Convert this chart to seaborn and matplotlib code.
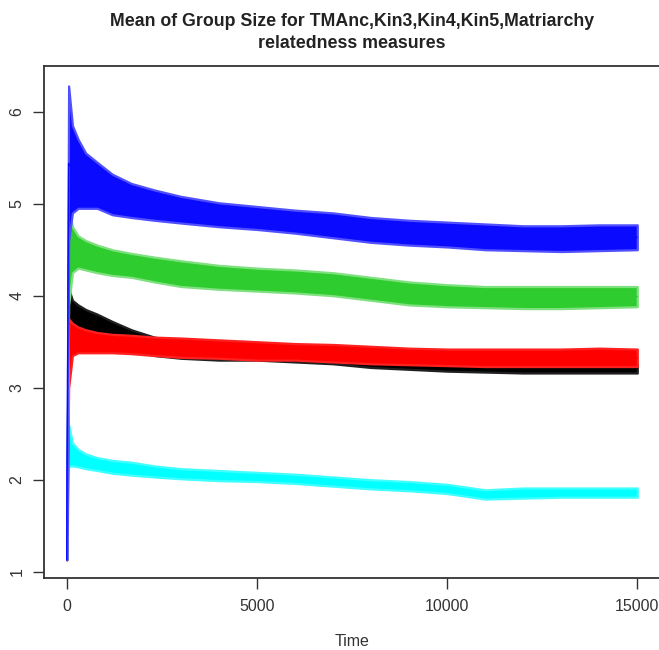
import numpy as np
import pandas as pd
import matplotlib
matplotlib.use("Agg")
import matplotlib.pyplot as plt
import seaborn as sns

# ---- data (time, lower / upper envelope of each noisy series) ----
times = [0, 50, 150, 300, 500, 800, 1200, 1700, 2300, 3000, 4000, 5000, 6000,
         7000, 8000, 9000, 10000, 11000, 12000, 13000, 14000, 15000]

cyan_low  = [1.13, 2.15, 2.15, 2.14, 2.12, 2.10, 2.07, 2.05, 2.03, 2.01, 1.99, 1.98, 1.96,
             1.93, 1.90, 1.88, 1.85, 1.79, 1.80, 1.81, 1.81, 1.81]
cyan_high = [1.13, 2.60, 2.40, 2.33, 2.28, 2.24, 2.21, 2.19, 2.15, 2.12, 2.10, 2.08, 2.06,
             2.03, 2.00, 1.98, 1.95, 1.89, 1.91, 1.91, 1.91, 1.91]

black_low  = [1.13, 3.30, 3.60, 3.62, 3.60, 3.55, 3.50, 3.40, 3.35, 3.32, 3.30, 3.30, 3.28,
              3.26, 3.22, 3.20, 3.18, 3.17, 3.16, 3.16, 3.16, 3.16]
black_high = [1.13, 4.08, 3.95, 3.90, 3.85, 3.80, 3.72, 3.63, 3.55, 3.50, 3.46, 3.45, 3.43,
              3.40, 3.36, 3.32, 3.30, 3.28, 3.27, 3.27, 3.27, 3.26]

red_low  = [1.13, 3.00, 3.35, 3.38, 3.38, 3.38, 3.38, 3.37, 3.35, 3.33, 3.32, 3.30, 3.30,
            3.28, 3.26, 3.25, 3.24, 3.23, 3.23, 3.23, 3.23, 3.23]
red_high = [1.13, 3.75, 3.70, 3.66, 3.63, 3.60, 3.58, 3.57, 3.55, 3.54, 3.52, 3.50, 3.48,
            3.47, 3.45, 3.43, 3.42, 3.42, 3.42, 3.42, 3.43, 3.42]

green_low  = [1.13, 3.90, 4.25, 4.30, 4.28, 4.25, 4.22, 4.20, 4.15, 4.10, 4.07, 4.05, 4.03,
              4.00, 3.95, 3.90, 3.88, 3.87, 3.86, 3.86, 3.87, 3.88]
green_high = [1.13, 4.95, 4.75, 4.65, 4.60, 4.55, 4.50, 4.46, 4.42, 4.38, 4.33, 4.30, 4.28,
              4.25, 4.20, 4.15, 4.12, 4.10, 4.10, 4.10, 4.10, 4.10]

blue_low  = [1.13, 4.60, 4.90, 4.95, 4.95, 4.95, 4.88, 4.85, 4.82, 4.79, 4.75, 4.72, 4.68,
             4.63, 4.58, 4.55, 4.53, 4.50, 4.49, 4.48, 4.49, 4.50]
blue_high = [1.13, 6.28, 5.85, 5.70, 5.55, 5.45, 5.32, 5.22, 5.15, 5.08, 5.01, 4.97, 4.93,
             4.90, 4.85, 4.82, 4.80, 4.78, 4.76, 4.76, 4.77, 4.77]

series_names = ["Matriarchy", "TMAnc", "Kin3", "Kin4", "Kin5"]
series_low = [cyan_low, black_low, red_low, green_low, blue_low]
series_high = [cyan_high, black_high, red_high, green_high, blue_high]
series_colors = ["#00FFFF", "#000000", "#FF0000", "#2ECC2E", "#0A0AFF"]
series_edges = ["#40FFFF", "#202020", "#FF2020", "#7FE07F", "#5050FF"]

x_ticks = [0, 5000, 10000, 15000]
y_ticks = [1, 2, 3, 4, 5, 6]
title_text = "Mean of Group Size for TMAnc,Kin3,Kin4,Kin5,Matriarchy\nrelatedness measures"
x_label = "Time"

# ---- long-form table: two observations (envelope) per time step ----
rows = []
for name, lo, hi in zip(series_names, series_low, series_high):
    for t, a, b in zip(times, lo, hi):
        rows.append((name, t, a))
        rows.append((name, t, b))
df = pd.DataFrame(rows, columns=["series", "time", "value"])

sns.set_theme(style="white")
plt.rcParams["font.family"] = ["Liberation Sans", "DejaVu Sans"]

fig = plt.figure(figsize=(6.59, 6.5), dpi=100)
ax = fig.add_axes([44 / 659, (650 - 577.7) / 650, (660.3 - 44) / 659, (577.7 - 65.7) / 650])

for i, (name, col, edge) in enumerate(zip(series_names, series_colors, series_edges)):
    sub = df[df["series"] == name]
    sns.lineplot(data=sub, x="time", y="value", ax=ax, color=col,
                 estimator="mean", errorbar=("pi", 100), linewidth=1.0,
                 zorder=3 + 2 * i,
                 err_kws={"alpha": 1.0, "linewidth": 1.6, "edgecolor": edge,
                          "facecolor": col, "zorder": 2 + 2 * i})

ax.set_xlim(-597, 15605)
ax.set_ylim(0.935, 6.5)
ax.set_xticks(x_ticks)
ax.set_xticklabels([str(v) for v in x_ticks])
ax.set_yticks(y_ticks)
ax.set_yticklabels([str(v) for v in y_ticks], rotation=90, va="center")

for s in ax.spines.values():
    s.set_visible(True)
    s.set_color("#333333")
    s.set_linewidth(1.3)
    s.set_zorder(20)

ax.tick_params(axis="both", direction="out", length=8, width=1.0, color="#333333",
               labelsize=11.5, labelcolor="#333333", bottom=True, left=True)
ax.tick_params(axis="x", pad=7)
ax.tick_params(axis="y", pad=6)

ax.set_xlabel(x_label, fontsize=11.5, color="#333333")
ax.xaxis.set_label_coords(0.5, -0.11)
ax.set_ylabel("")

fig.text(352 / 659, 1 - 32.5 / 650, title_text, ha="center", va="center",
         fontsize=12.8, fontweight="bold", color="#222222", linespacing=1.38)

fig.savefig("out.png", dpi=100)
